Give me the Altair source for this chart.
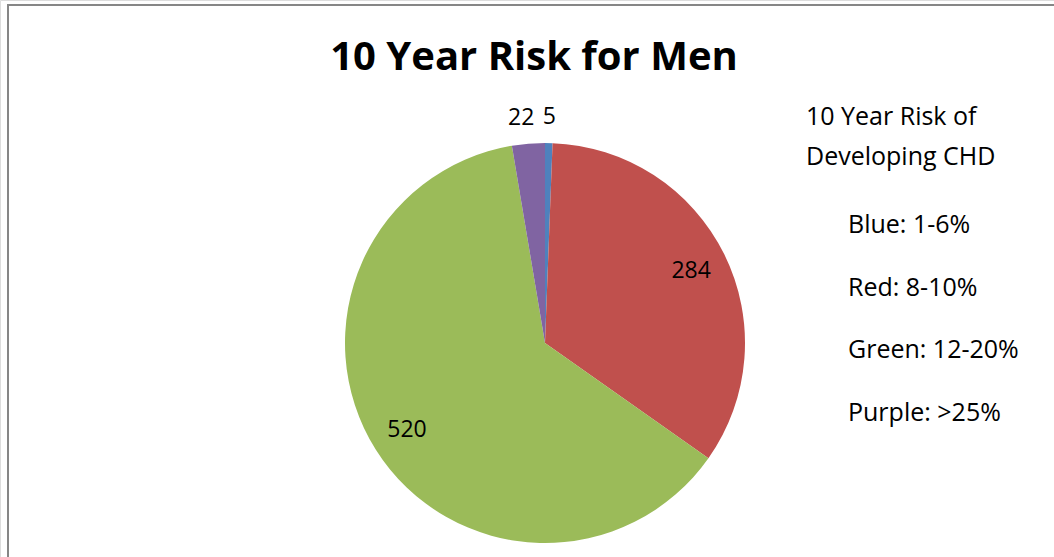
import altair as alt
import pandas as pd

# Data
categories = ["Blue: 1-6%", "Red: 8-10%", "Green: 12-20%", "Purple: >25%"]
counts = [5, 284, 520, 22]
colors = ["#4F81BD", "#C0504D", "#9BBB59", "#8064A2"]

legend_title = ["10 Year Risk of", "Developing CHD"]
title_text = "10 Year Risk for Men"

df = pd.DataFrame({"category": categories, "count": counts, "idx": list(range(len(categories)))})

W, H = 1054, 557
CX, CY, R = 545, 343, 200
FONT = "Open Sans"

base = alt.Chart(df)

pie = base.mark_arc(outerRadius=R, stroke=None).encode(
    x=alt.value(CX),
    y=alt.value(CY),
    theta=alt.Theta("count:Q", stack=True),
    color=alt.Color("category:N", scale=alt.Scale(domain=categories, range=colors), legend=None),
    order=alt.Order("idx:Q"),
)

# outside labels for thin slices (nudged away from each other like Excel's best fit)
labels = base.mark_text(
    font=FONT, fontSize=23, color="#000000", align="center", baseline="middle",
    radius=alt.expr("datum.count < 50 ? 226 : 163"),
    dx=alt.expr("datum.count < 50 && datum.count_start > 415 ? -5 : 0"),
).encode(
    x=alt.value(CX),
    y=alt.value(CY),
    theta=alt.Theta("count:Q", stack=True),
    text=alt.Text("count:Q"),
    order=alt.Order("idx:Q"),
)

title = alt.Chart(pd.DataFrame({"t": [title_text]})).mark_text(
    font=FONT, fontSize=40, fontWeight="bold", color="#000000", align="center", baseline="alphabetic"
).encode(x=alt.value(534), y=alt.value(70), text="t:N")

lt_df = pd.DataFrame({"t": legend_title, "i": list(range(len(legend_title)))})
legend_head = alt.Chart(lt_df).mark_text(
    font=FONT, fontSize=25, color="#000000", align="left", baseline="alphabetic"
).encode(
    x=alt.value(806),
    y=alt.Y("i:Q", scale=alt.Scale(domain=[0, 1], range=[125, 165]), axis=None),
    text="t:N",
)

legend_items = base.mark_text(
    font=FONT, fontSize=25, color="#000000", align="left", baseline="alphabetic"
).encode(
    x=alt.value(848),
    y=alt.Y("idx:Q", scale=alt.Scale(domain=[0, 3], range=[233, 421]), axis=None),
    text="category:N",
)

border_top = alt.Chart(pd.DataFrame({"a": [0]})).mark_rule(color="#868686", strokeWidth=2).encode(
    x=alt.value(8), x2=alt.value(W), y=alt.value(5)
)
border_left = alt.Chart(pd.DataFrame({"a": [0]})).mark_rule(color="#868686", strokeWidth=2).encode(
    x=alt.value(8), y=alt.value(4), y2=alt.value(H)
)

chart = alt.layer(
    border_top, border_left, pie, labels, title, legend_head, legend_items
).resolve_scale(y="independent").properties(
    width=W, height=H, padding=0, autosize=alt.AutoSizeParams(type="none")
).configure_view(stroke=None).configure(background="white")

chart.save("out.html", embed_options={"renderer": "svg", "actions": False})
